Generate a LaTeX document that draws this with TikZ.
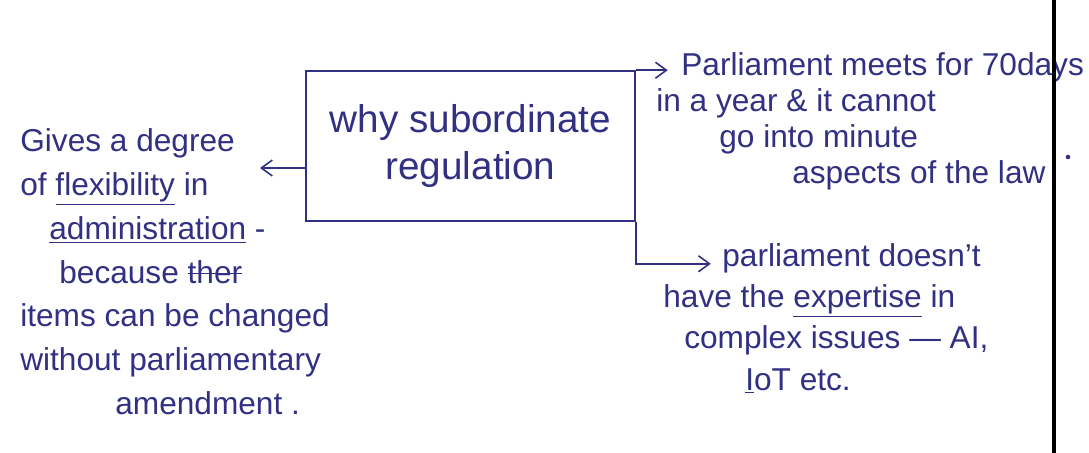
\documentclass[tikz,border=0pt]{standalone}
\usepackage{fontspec}
\setmainfont{Liberation Sans}
\usepackage{tikz}
\usetikzlibrary{arrows.meta,calc,positioning}
\definecolor{ink}{RGB}{50,48,130}
\newcommand{\scratchout}[1]{\setbox0\hbox{#1}\rlap{\rule[0.28em]{\wd0}{0.9pt}}#1}

\begin{document}
\begin{tikzpicture}[
    x=0.02cm, y=-0.02cm,
    box/.style={draw=ink, line width=0.9pt, minimum width=6.58cm, minimum height=3cm, align=center, text=ink, inner sep=0pt, font=\fontsize{22}{27}\selectfont},
    note/.style={align=left, text=ink, inner sep=0pt, font=\fontsize{18}{25}\selectfont},
    arr/.style={-{Straight Barb[length=2.2mm,width=3.2mm]}, line width=0.9pt, draw=ink}
  ]
    \useasboundingbox (0,0) rectangle (1089,453);
    \node[box] (why) at (470.5,146) {why subordinate\\regulation};
    \node[note, anchor=north west] (gives) at (20,128) {Gives a degree\\of \underline{flexibility} in\\\hspace*{0.58cm}\underline{administration} -\\\hspace*{0.78cm}because \scratchout{ther}\\items can be changed\\without parliamentary\\\hspace*{1.9cm}amendment .};
    \node[note, anchor=north west, font=\fontsize{18}{20.5}\selectfont] (meets) at (656,52) {\hspace*{0.5cm}Parliament meets for 70days\\in a year \& it cannot\\\hspace*{1.26cm}go into minute\\\hspace*{2.72cm}aspects of the law};
    \node[note, anchor=north west, font=\fontsize{18}{23.5}\selectfont] (lack) at (663,243) {\hspace*{1.18cm}parliament doesn't\\have the \underline{expertise} in\\\hspace*{0.42cm}complex issues — AI,\\\hspace*{1.64cm}\underline{I}oT etc.};
    \coordinate (flextip) at (260,168);
    \coordinate (meetstip) at ($(why.north east)+(32,0)$);
    \coordinate (knee) at ($(why.south east)+(0,42)$);
    \coordinate (lacktip) at ($(knee)+(75,0)$);
    \draw[arr] (why.west |- flextip) -- (flextip);
    \draw[arr] (why.north east) -- (meetstip);
    \draw[arr] (why.south east) -- (knee) -- (lacktip);
    % page margin
    \draw[line width=2.2pt] (1054,0) -- (1054,453);
    \fill[ink] (1068,157) circle (1.3pt);
\end{tikzpicture}
\end{document}
